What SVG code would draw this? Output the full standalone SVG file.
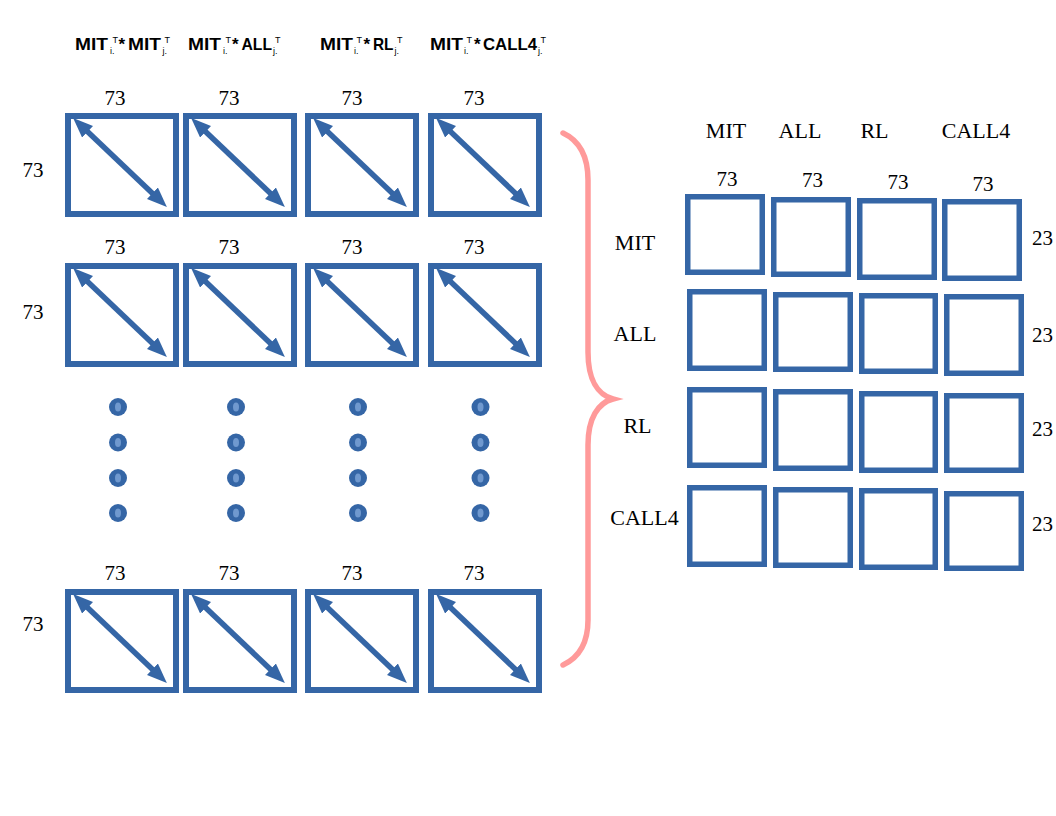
<svg xmlns="http://www.w3.org/2000/svg" xmlns:xlink="http://www.w3.org/1999/xlink" width="1056" height="816" viewBox="0 0 1056 816">
<style>
.bg{fill:#ffffff}
.lbox{fill:none;stroke:#3566a6;stroke-width:6}
.rbox{fill:none;stroke:#3566a6;stroke-width:5.5}
.diag{stroke:#3566a6;stroke-width:5.5;marker-start:url(#ah);marker-end:url(#ah)}
.num{font-family:"Liberation Serif","Times New Roman",serif;font-size:21px;fill:#000;text-anchor:middle}
.lab{font-family:"Liberation Serif","Times New Roman",serif;font-size:22px;fill:#000;text-anchor:middle}
.hdr{font-family:"Liberation Sans",Arial,sans-serif;font-size:17px;font-weight:bold;fill:#000}
.ss{font-size:9px;font-weight:normal}
.brace{fill:none;stroke:#ff9a9a;stroke-width:5.5;stroke-linecap:round}
</style>
<defs>
<marker id="ah" markerUnits="userSpaceOnUse" markerWidth="20" markerHeight="16" refX="5" refY="8" orient="auto-start-reverse" viewBox="0 0 20 16">
<path d="M0,0 L20,8 L0,16 Z" fill="#3566a6"/>
</marker>
<g id="dot"><circle r="9" fill="#3566a6"/><ellipse rx="3" ry="4.5" fill="#7099cf"/></g>
<g id="lcell"><rect class="lbox" x="3" y="3" width="108" height="98"/><line class="diag" x1="19" y1="15.3" x2="91" y2="83.7"/></g>
</defs>
<rect class="bg" x="0" y="0" width="1056" height="816"/>

<g id="headers">
<text class="hdr" y="50"><tspan x="75" textLength="33" lengthAdjust="spacingAndGlyphs">MIT</tspan><tspan class="ss" x="110" y="54">i.</tspan><tspan class="ss" x="112.5" y="43">T</tspan><tspan x="118.5" y="50">*</tspan><tspan x="128" textLength="33" lengthAdjust="spacingAndGlyphs">MIT</tspan><tspan class="ss" x="162.5" y="54">j.</tspan><tspan class="ss" x="164.5" y="43">T</tspan></text>
<text class="hdr" y="50"><tspan x="188" textLength="33" lengthAdjust="spacingAndGlyphs">MIT</tspan><tspan class="ss" x="223" y="54">i.</tspan><tspan class="ss" x="225.5" y="43">T</tspan><tspan x="232" y="50">*</tspan><tspan x="241.5" textLength="30.5" lengthAdjust="spacingAndGlyphs">ALL</tspan><tspan class="ss" x="273" y="54">j.</tspan><tspan class="ss" x="275" y="43">T</tspan></text>
<text class="hdr" y="50"><tspan x="320" textLength="33" lengthAdjust="spacingAndGlyphs">MIT</tspan><tspan class="ss" x="354" y="54">i.</tspan><tspan class="ss" x="356.5" y="43">T</tspan><tspan x="363.5" y="50">*</tspan><tspan x="373" textLength="20.5" lengthAdjust="spacingAndGlyphs">RL</tspan><tspan class="ss" x="394.5" y="54">j.</tspan><tspan class="ss" x="397" y="43">T</tspan></text>
<text class="hdr" y="50"><tspan x="430" textLength="33" lengthAdjust="spacingAndGlyphs">MIT</tspan><tspan class="ss" x="464" y="54">i.</tspan><tspan class="ss" x="466.5" y="43">T</tspan><tspan x="474" y="50">*</tspan><tspan x="483" textLength="54" lengthAdjust="spacingAndGlyphs">CALL4</tspan><tspan class="ss" x="538" y="54">j.</tspan><tspan class="ss" x="540.5" y="43">T</tspan></text>
</g>

<g id="left-labels">
<text class="num" x="115" y="105">73</text><text class="num" x="229" y="105">73</text><text class="num" x="352" y="105">73</text><text class="num" x="474" y="105">73</text>
<text class="num" x="115" y="254">73</text><text class="num" x="229" y="254">73</text><text class="num" x="352" y="254">73</text><text class="num" x="474" y="254">73</text>
<text class="num" x="115" y="580">73</text><text class="num" x="229" y="580">73</text><text class="num" x="352" y="580">73</text><text class="num" x="474" y="580">73</text>
<text class="num" x="33" y="177">73</text>
<text class="num" x="33" y="319">73</text>
<text class="num" x="33" y="631">73</text>
</g>

<g id="L-r1c1" transform="translate(65,113)"><use href="#lcell"/></g>
<g id="L-r1c2" transform="translate(183,113)"><use href="#lcell"/></g>
<g id="L-r1c3" transform="translate(305,113)"><use href="#lcell"/></g>
<g id="L-r1c4" transform="translate(428,113)"><use href="#lcell"/></g>
<g id="L-r2c1" transform="translate(65,263)"><use href="#lcell"/></g>
<g id="L-r2c2" transform="translate(183,263)"><use href="#lcell"/></g>
<g id="L-r2c3" transform="translate(305,263)"><use href="#lcell"/></g>
<g id="L-r2c4" transform="translate(428,263)"><use href="#lcell"/></g>
<g id="L-r3c1" transform="translate(65,589)"><use href="#lcell"/></g>
<g id="L-r3c2" transform="translate(183,589)"><use href="#lcell"/></g>
<g id="L-r3c3" transform="translate(305,589)"><use href="#lcell"/></g>
<g id="L-r3c4" transform="translate(428,589)"><use href="#lcell"/></g>

<g id="ellipsis">
<use href="#dot" x="118" y="407"/><use href="#dot" x="118" y="442.5"/><use href="#dot" x="118" y="478"/><use href="#dot" x="118" y="513"/>
<use href="#dot" x="236" y="407"/><use href="#dot" x="236" y="442.5"/><use href="#dot" x="236" y="478"/><use href="#dot" x="236" y="513"/>
<use href="#dot" x="358" y="407"/><use href="#dot" x="358" y="442.5"/><use href="#dot" x="358" y="478"/><use href="#dot" x="358" y="513"/>
<use href="#dot" x="480.5" y="407"/><use href="#dot" x="480.5" y="442.5"/><use href="#dot" x="480.5" y="478"/><use href="#dot" x="480.5" y="513"/>
</g>

<g id="connectors">
<path class="brace" d="M563,133 C578,140 588,155 588,180 L588,352 C588,380 598,395 613,399 C598,403 588,418 588,445 L588,620 C588,645 578,658 563,665"/>
</g>

<g id="right-labels">
<text class="lab" x="726" y="138">MIT</text><text class="lab" x="800" y="138">ALL</text><text class="lab" x="874.5" y="138">RL</text><text class="lab" x="976" y="138">CALL4</text>
<text class="num" x="727" y="186">73</text><text class="num" x="812.5" y="187">73</text><text class="num" x="898" y="189">73</text><text class="num" x="983" y="191">73</text>
<text class="lab" x="635" y="250">MIT</text><text class="lab" x="635" y="341">ALL</text><text class="lab" x="637.5" y="433">RL</text><text class="lab" x="644.5" y="525">CALL4</text>
<text class="num" x="1042.5" y="245">23</text><text class="num" x="1042.5" y="342">23</text><text class="num" x="1042.5" y="436">23</text><text class="num" x="1042.5" y="531">23</text>
</g>

<g id="R-r1c1"><rect class="rbox" x="687.75" y="196.75" width="74.5" height="75.5"/></g>
<g id="R-r1c2"><rect class="rbox" x="773.75" y="199.75" width="74.5" height="74.5"/></g>
<g id="R-r1c3"><rect class="rbox" x="859.75" y="200.75" width="74.5" height="76.5"/></g>
<g id="R-r1c4"><rect class="rbox" x="944.75" y="201.75" width="74.5" height="76.5"/></g>
<g id="R-r2c1"><rect class="rbox" x="689.75" y="291.75" width="74.5" height="76.5"/></g>
<g id="R-r2c2"><rect class="rbox" x="775.75" y="294.75" width="74.5" height="74.5"/></g>
<g id="R-r2c3"><rect class="rbox" x="861.75" y="295.75" width="73.5" height="75.5"/></g>
<g id="R-r2c4"><rect class="rbox" x="946.75" y="296.75" width="74.5" height="76.5"/></g>
<g id="R-r3c1"><rect class="rbox" x="689.75" y="389.75" width="74.5" height="75.5"/></g>
<g id="R-r3c2"><rect class="rbox" x="775.75" y="391.75" width="74.5" height="76.5"/></g>
<g id="R-r3c3"><rect class="rbox" x="861.75" y="393.75" width="73.5" height="76.5"/></g>
<g id="R-r3c4"><rect class="rbox" x="946.75" y="395.75" width="74.5" height="74.5"/></g>
<g id="R-r4c1"><rect class="rbox" x="689.75" y="487.75" width="74.5" height="76.5"/></g>
<g id="R-r4c2"><rect class="rbox" x="775.75" y="489.75" width="74.5" height="75.5"/></g>
<g id="R-r4c3"><rect class="rbox" x="861.75" y="490.75" width="73.5" height="76.5"/></g>
<g id="R-r4c4"><rect class="rbox" x="946.75" y="493.75" width="74.5" height="74.5"/></g>
</svg>
